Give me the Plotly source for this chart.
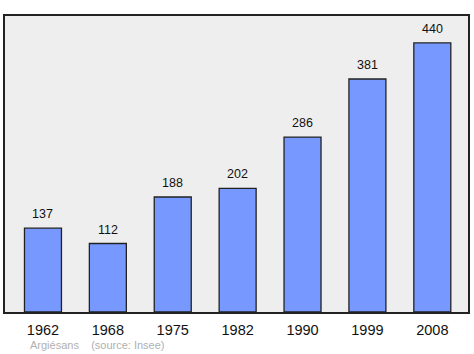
import plotly.graph_objects as go

years = ["1962", "1968", "1975", "1982", "1990", "1999", "2008"]
population = [137, 112, 188, 202, 286, 381, 440]
town = "Argiésans"
source = "(source: Insee)"

fig = go.Figure()
fig.add_trace(go.Bar(
    x=years, y=population, width=0.57,
    marker=dict(color="#7799ff", line=dict(color="#222222", width=1.3)),
    hoverinfo="skip",
))
for i, v in enumerate(population):
    fig.add_annotation(x=i, y=v, text=str(v), showarrow=False, yanchor="bottom",
                       yshift=5, font=dict(family="Liberation Sans, Arial", size=12.5, color="#111"))

fig.add_annotation(xref="paper", yref="paper", x=0.05, y=-0.113, xanchor="left", yanchor="middle",
                   text=town + "&nbsp;&nbsp;&nbsp;&nbsp;" + source, showarrow=False,
                   font=dict(family="Liberation Sans, Arial", size=11, color="#b0b0b0"))

fig.update_layout(
    width=474, height=354,
    margin=dict(l=5, r=6, t=16, b=42),
    paper_bgcolor="white", plot_bgcolor="#eeeeee",
    showlegend=False,
    xaxis=dict(type="category", range=[-0.585, 6.55], showline=True, mirror=True,
               linecolor="#222", linewidth=1.5, ticks="", showgrid=False,
               ticklabelstandoff=4,
               tickfont=dict(family="Liberation Sans, Arial", size=14.5, color="#111")),
    yaxis=dict(range=[0, 484], showline=True, mirror=True, linecolor="#222", linewidth=1.5,
               showticklabels=False, ticks="", showgrid=False, zeroline=False),
)
fig.write_html("out.html")
